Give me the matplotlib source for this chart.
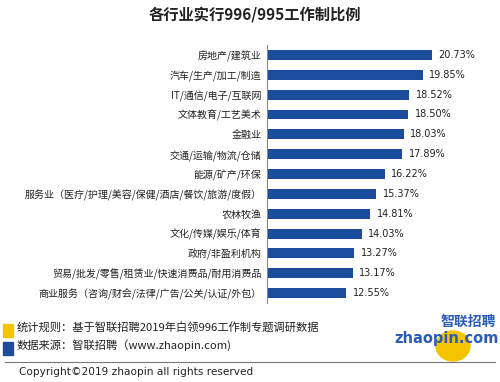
import matplotlib
matplotlib.use("Agg")
import matplotlib.pyplot as plt
from matplotlib.patches import Rectangle, Ellipse, Circle

plt.rcParams['font.family'] = ['Noto Sans CJK SC', 'DejaVu Sans']

categories = ["房地产/建筑业", "汽车/生产/加工/制造", "IT/通信/电子/互联网", "文体教育/工艺美术",
              "金融业", "交通/运输/物流/仓储", "能源/矿产/环保",
              "服务业（医疗/护理/美容/保健/酒店/餐饮/旅游/度假）", "农林牧渔", "文化/传媒/娱乐/体育",
              "政府/非盈利机构", "贸易/批发/零售/租赁业/快速消费品/耐用消费品",
              "商业服务（咨询/财会/法律/广告/公关/认证/外包）"]
values = [20.73, 19.85, 18.52, 18.50, 18.03, 17.89, 16.22, 15.37, 14.81, 14.03, 13.27, 13.17, 12.55]

W, H = 500, 382
fig = plt.figure(figsize=(5, 3.82), dpi=100)
bar_color = "#1C4C9C"

ax = fig.add_axes([267/W, 1-303/H, (480-267)/W, (303-45)/H])
y = list(range(len(categories)))
ax.barh(y, values, height=0.5, color=bar_color, left=0)
ax.set_xlim(5, 5 + 213/10.48)
ax.set_ylim(12.5, -0.5)
for i, v in enumerate(values):
    ax.text(v + 0.65, i, f"{v:.2f}%", va='center', ha='left', fontsize=7, color='#222222',
            family=['DejaVu Sans'])
ax.set_yticks(y)
ax.set_yticklabels(categories, fontsize=7.2, color='#222222')
ax.tick_params(axis='y', length=0, pad=4)
ax.set_xticks([])
for s in ['top', 'right', 'bottom']:
    ax.spines[s].set_visible(False)
ax.spines['left'].set_color('#888888')
ax.spines['left'].set_linewidth(0.8)

fig.text(255/W, 1-14/H, "各行业实行996/995工作制比例", ha='center', va='center',
         fontsize=11, fontweight='bold', color='#222222')

# footer
fig.patches.append(Rectangle((3/W, 1-337/H), 10/W, 13/H, transform=fig.transFigure,
                             color='#F5C400'))
fig.patches.append(Rectangle((3/W, 1-355/H), 10/W, 13/H, transform=fig.transFigure,
                             color='#1C4C9C'))
fig.text(17/W, 1-327/H, "统计规则：基于智联招聘2019年白领996工作制专题调研数据", ha='left', va='center',
         fontsize=8.1, color='#222222')
fig.text(17/W, 1-345/H, "数据来源：智联招聘（www.zhaopin.com)", ha='left', va='center',
         fontsize=8.1, color='#222222')
fig.add_artist(plt.Line2D([5/W, 495/W], [1-362/H, 1-362/H], transform=fig.transFigure,
                          color='#777777', lw=0.8))
fig.text(19/W, 1-372/H, "Copyright©2019 zhaopin all rights reserved", ha='left', va='center',
         fontsize=7.6, color='#222222', family=['DejaVu Sans'])

# logo
fig.patches.append(Ellipse((453/W, 1-346/H), 34/W, 30/H, transform=fig.transFigure,
                           color='#F5C400'))
fig.text(468/W, 1-322/H, "智联招聘", ha='center', va='center', fontsize=10, fontweight='bold',
         color='#2A5CB8', style='italic')
fig.text(447/W, 1-339/H, "zhaopin.com", ha='center', va='center', fontsize=10.5, fontweight='bold',
         color='#2A5CB8', family=['DejaVu Sans'])

fig.savefig("out.png", dpi=100, facecolor='white')
